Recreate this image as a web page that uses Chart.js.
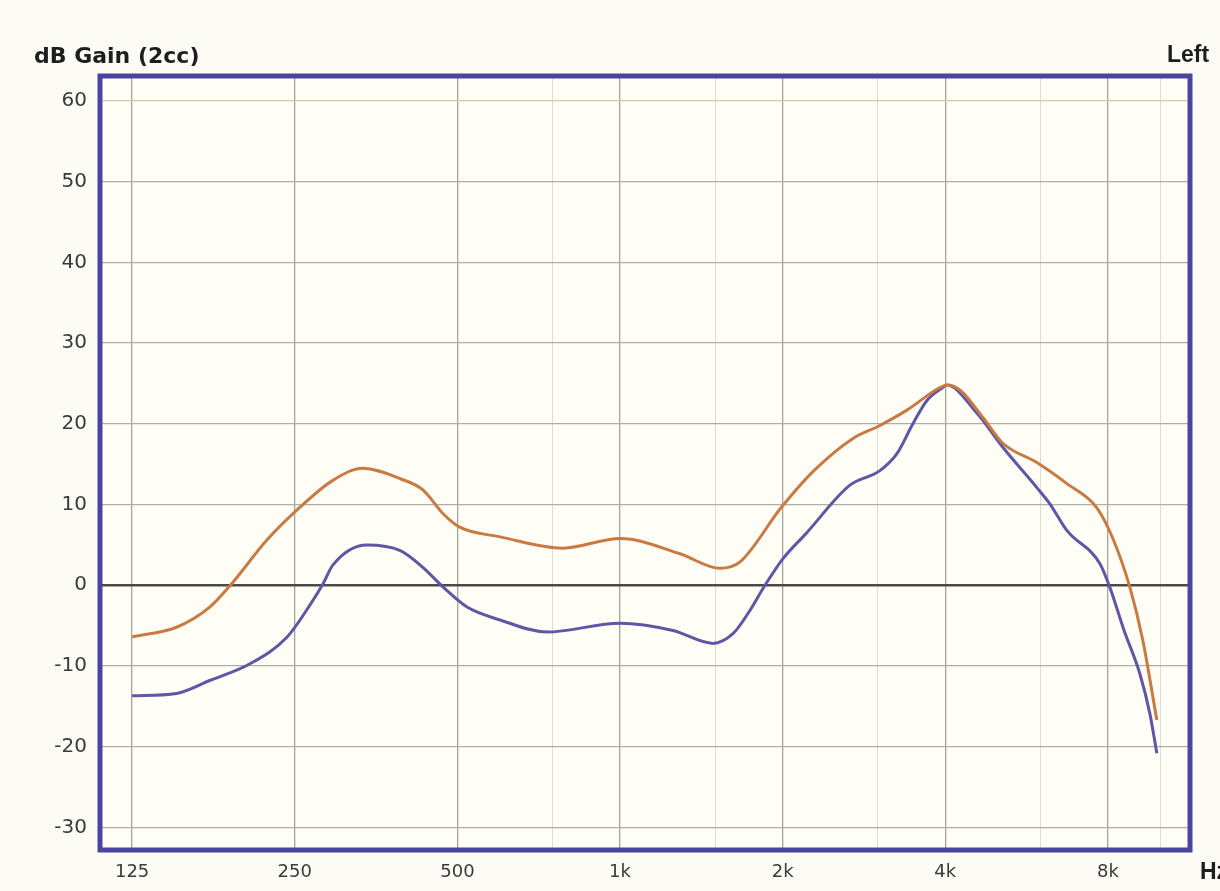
<!DOCTYPE html>
<html>
<head>
<meta charset="utf-8">
<script src="https://cdn.jsdelivr.net/npm/chart.js@4/dist/chart.umd.min.js"></script>
<style>
  html, body { margin: 0; padding: 0; background: #fcfbf6; }
  #wrap { width: 1220px; height: 891px; position: relative; }
</style>
</head>
<body>
<div id="wrap"><canvas id="c" width="1220" height="891"></canvas></div>
<script>
// ---- data ----
const freqOrange = [125, 151, 174, 190, 222, 256, 294, 334, 392, 432, 470, 505, 600, 784, 1000, 1291, 1531, 1668, 1986, 2285, 2699, 3027, 3396, 3909, 4027, 4256, 4695, 5112, 5909, 6714, 7630, 8170, 8780, 9280, 9854];
const gainOrange = [-6.4, -5.2, -2.7, 0.0, 5.6, 9.7, 13.0, 14.5, 13.2, 11.8, 8.9, 7.2, 6.0, 4.6, 5.8, 3.9, 2.1, 2.9, 9.6, 14.2, 18.2, 19.8, 21.7, 24.5, 24.8, 24.2, 20.8, 17.6, 15.2, 12.6, 9.6, 5.8, -0.2, -6.8, -16.7];

const freqBlue = [125, 151, 174, 207, 242, 267, 282, 294, 340, 392, 432, 470, 521, 600, 732, 1000, 1253, 1486, 1618, 1725, 1855, 2003, 2209, 2664, 3027, 3255, 3484, 3699, 3959, 4027, 4579, 5112, 5909, 6245, 6714, 7728, 8060, 8570, 9160, 9565, 9854];
const gainBlue = [-13.7, -13.4, -11.8, -9.7, -6.4, -2.4, 0.2, 2.5, 5.0, 4.3, 2.2, -0.2, -2.7, -4.3, -5.8, -4.7, -5.6, -7.2, -6.0, -3.5, 0.0, 3.3, 6.4, 12.4, 14.2, 16.3, 20.0, 22.9, 24.5, 24.8, 21.3, 17.1, 12.1, 10.1, 6.8, 2.7, -0.2, -5.6, -10.9, -15.9, -20.8];

const yTicks = [-30, -20, -10, 0, 10, 20, 30, 40, 50, 60];
const xMajor = [125, 250, 500, 1000, 2000, 4000, 8000];
const xMajorLabels = ['125', '250', '500', '1k', '2k', '4k', '8k'];
const xMinor = [750, 1500, 3000, 6000, 10000];

const yLabel = 'dB Gain (2cc)';
const sideLabel = 'Left';
const unitLabel = 'Hz';

// ---- plugins ----
const frame = {
  id: 'frame',
  beforeDraw(chart) {
    const { ctx, chartArea: a } = chart;
    ctx.save();
    ctx.fillStyle = '#fcfbf6';
    ctx.fillRect(0, 0, chart.width, chart.height);
    ctx.fillStyle = '#fffef6';
    ctx.fillRect(a.left, a.top, a.right - a.left, a.bottom - a.top);
    ctx.restore();
  },
  afterDraw(chart) {
    const { ctx, chartArea: a } = chart;
    ctx.save();
    ctx.strokeStyle = '#4a44a2';
    ctx.lineWidth = 5;
    ctx.strokeRect(a.left, a.top, a.right - a.left, a.bottom - a.top);
    ctx.fillStyle = '#1e1e1e';
    ctx.font = 'bold 22px "DejaVu Sans"';
    ctx.textBaseline = 'middle';
    ctx.textAlign = 'left';
    ctx.fillText(yLabel, 34, 57);
    ctx.font = 'bold 23px "Liberation Sans"';
    ctx.fillText(sideLabel, 1167, 56);
    ctx.fillText(unitLabel, 1200, 873);
    ctx.restore();
  }
};

const majorSet = new Set(xMajor);

new Chart(document.getElementById('c'), {
  type: 'line',
  data: {
    datasets: [
      {
        label: 'orange',
        data: freqOrange.map((f, i) => ({ x: f, y: gainOrange[i] })),
        borderColor: '#c97a42',
        borderWidth: 3,
        pointRadius: 0,
        cubicInterpolationMode: 'monotone',
        fill: false
      },
      {
        label: 'blue',
        data: freqBlue.map((f, i) => ({ x: f, y: gainBlue[i] })),
        borderColor: '#5f56a6',
        borderWidth: 3,
        pointRadius: 0,
        cubicInterpolationMode: 'monotone',
        fill: false
      }
    ]
  },
  options: {
    responsive: false,
    animation: false,
    devicePixelRatio: 1,
    layout: { padding: { top: 76, right: 30, left: 0, bottom: 0 } },
    plugins: { legend: { display: false }, tooltip: { enabled: false }, title: { display: false } },
    scales: {
      x: {
        type: 'logarithmic',
        min: 109,
        max: 11350,
        afterBuildTicks(scale) {
          scale.ticks = xMajor.concat(xMinor).sort((a, b) => a - b).map(v => ({ value: v }));
        },
        afterFit(scale) { scale.height = 41; },
        ticks: {
          autoSkip: false,
          maxRotation: 0,
          padding: 12,
          color: '#3a3a3a',
          font: { family: 'DejaVu Sans', size: 18 },
          callback(value) {
            const i = xMajor.indexOf(value);
            return i >= 0 ? xMajorLabels[i] : '';
          }
        },
        grid: {
          drawTicks: false,
          color(ctx) {
            const v = ctx.tick && ctx.tick.value;
            return majorSet.has(v) ? '#a4a49c' : '#dcdcd2';
          },
          lineWidth(ctx) {
            const v = ctx.tick && ctx.tick.value;
            return majorSet.has(v) ? 1.3 : 1;
          }
        },
        border: { display: false }
      },
      y: {
        type: 'linear',
        min: -32.8,
        max: 63.1,
        afterBuildTicks(scale) {
          scale.ticks = yTicks.map(v => ({ value: v }));
        },
        afterFit(scale) { scale.width = 100; },
        ticks: {
          padding: 13,
          color: '#3a3a3a',
          font: { family: 'DejaVu Sans', size: 20 }
        },
        grid: {
          drawTicks: false,
          color(ctx) {
            const v = ctx.tick && ctx.tick.value;
            if (v === 0) return '#4a4a46';
            if (v === 60) return '#d6caa4';
            return '#aeaea6';
          },
          lineWidth(ctx) {
            const v = ctx.tick && ctx.tick.value;
            return v === 0 ? 2.5 : 1.3;
          }
        },
        border: { display: false }
      }
    }
  },
  plugins: [frame]
});
</script>
</body>
</html>
